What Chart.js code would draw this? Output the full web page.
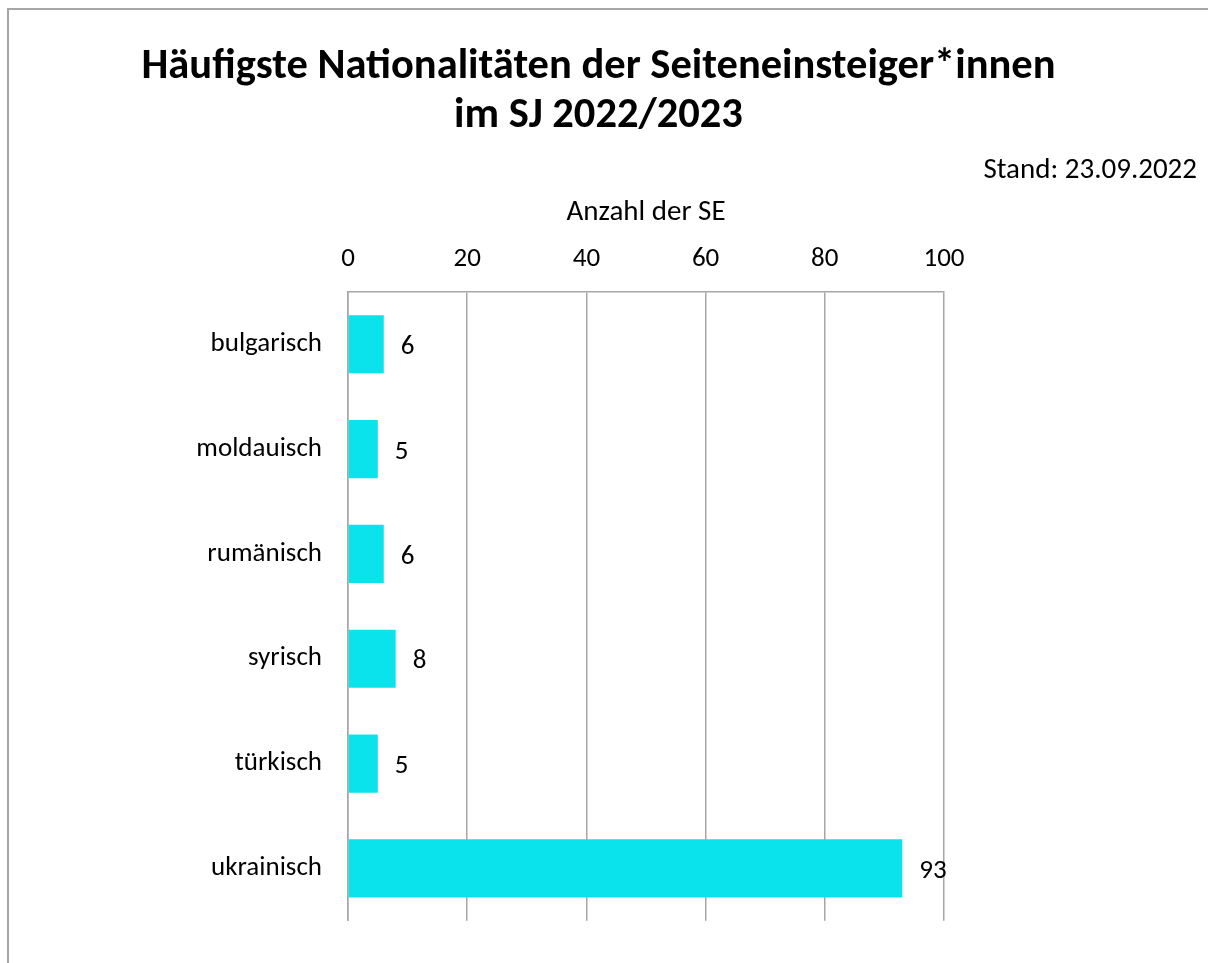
<!DOCTYPE html>
<html>
<head>
<meta charset="utf-8">
<script src="https://cdn.jsdelivr.net/npm/chart.js@4/dist/chart.umd.min.js"></script>
<style>
  body { margin: 0; background: #fff; }
  #rahmen {
    position: absolute; left: 7px; top: 8px; width: 1201px; height: 955px;
    border-top: 2px solid #a6a6a6; border-left: 2px solid #a6a6a6;
    box-sizing: border-box;
  }
  #box { position: absolute; left: 0; top: 0; width: 1208px; height: 963px; }
</style>
</head>
<body>
<div id="rahmen"></div>
<div id="box"><canvas id="nationalitaeten"></canvas></div>
<script>
/* ===================== DATEN ===================== */
const kategorien = ["bulgarisch", "moldauisch", "rumänisch", "syrisch", "türkisch", "ukrainisch"];
const anzahl = [6, 5, 6, 8, 5, 93];
const achseMin = 0;
const achseMax = 100;
const achseSchritt = 20;

const schrift = "Carlito, Calibri, Lato, sans-serif";
const farbeBalken = "#0ae3ec";
const farbeGitter = "#a6a6a6";
const klein = 27;
const mittel = 29;

/* ===================== WERTE-LABELS ===================== */
const werteLabels = {
  id: "werteLabels",
  afterDatasetsDraw(chart) {
    const ctx = chart.ctx;
    const meta = chart.getDatasetMeta(0);
    ctx.save();
    ctx.font = klein + "px " + schrift;
    ctx.fillStyle = "#000";
    ctx.textAlign = "left";
    ctx.textBaseline = "middle";
    meta.data.forEach((bar, i) => {
      ctx.fillText(String(anzahl[i]), bar.x + 17, bar.y + 3);
    });
    ctx.restore();
  },
};

/* ===================== CHART ===================== */
new Chart(document.getElementById("nationalitaeten"), {
  type: "bar",
  data: {
    labels: kategorien,
    datasets: [
      {
        label: "Anzahl der SE",
        data: anzahl,
        backgroundColor: farbeBalken,
        barPercentage: 0.555,
        categoryPercentage: 1,
      },
    ],
  },
  plugins: [werteLabels],
  options: {
    indexAxis: "y",
    responsive: true,
    maintainAspectRatio: false,
    animation: false,
    layout: { padding: { left: 0, right: 11, top: 0, bottom: 42 } },
    plugins: {
      legend: { display: false },
      tooltip: { enabled: false },
      title: {
        display: true,
        text: ["Häufigste Nationalitäten der Seiteneinsteiger*innen", "im SJ 2022/2023"],
        color: "#000",
        font: { family: schrift, size: 42.5, weight: "bold", lineHeight: 1.153 },
        padding: { top: 43, bottom: 12 },
      },
      subtitle: {
        display: true,
        text: "Stand: 23.09.2022",
        align: "end",
        color: "#000",
        font: { family: schrift, size: mittel, lineHeight: 1.2 },
        padding: { top: 0, bottom: 8 },
      },
    },
    scales: {
      x: {
        position: "top",
        min: achseMin,
        max: achseMax,
        ticks: { stepSize: achseSchritt, color: "#000", padding: 16, font: { family: schrift, size: klein } },
        grid: { color: farbeGitter, lineWidth: 1.5, drawTicks: false },
        border: { display: true, color: farbeGitter, width: 1.5 },
        title: {
          display: true,
          text: "Anzahl der SE",
          color: "#000",
          font: { family: schrift, size: mittel, lineHeight: 1.2 },
          padding: 0,
        },
        afterFit(s) { s.height = 96; },
      },
      y: {
        ticks: { color: "#000", padding: 26, font: { family: schrift, size: klein } },
        grid: { display: false, drawTicks: false },
        border: { display: true, color: farbeGitter, width: 1.5 },
        afterFit(s) { s.width = 348; },
      },
      rechts: {
        position: "right",
        display: true,
        ticks: { display: false },
        grid: { display: false, drawTicks: false },
        border: { display: false },
        afterFit(s) { s.width = 253; },
      },
    },
  },
});
</script>
</body>
</html>
